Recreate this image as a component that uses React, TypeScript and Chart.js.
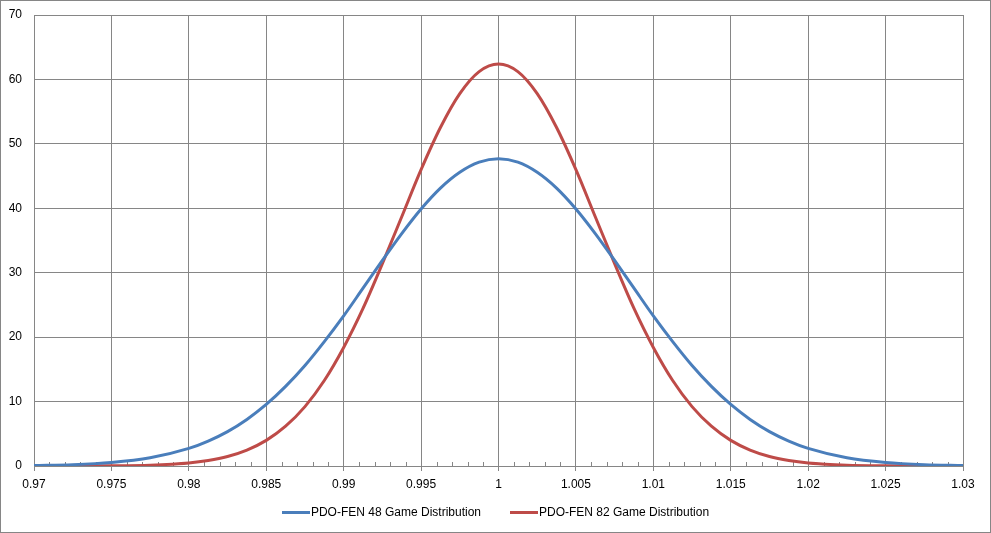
import React, { useEffect, useRef } from "react";
import { Chart, registerables, Plugin } from "chart.js";

Chart.register(...registerables);

const xValues = [
  0.97, 0.9725, 0.975, 0.9775, 0.98, 0.98125, 0.9825, 0.98375, 0.985, 0.98625,
  0.9875, 0.98875, 0.99, 0.99125, 0.9925, 0.99375, 0.995, 0.99625, 0.9975,
  0.99875, 1.0, 1.00125, 1.0025, 1.00375, 1.005, 1.00625, 1.0075, 1.00875,
  1.01, 1.01125, 1.0125, 1.01375, 1.015, 1.01625, 1.0175, 1.01875, 1.02,
  1.0225, 1.025, 1.0275, 1.03,
];

const games48 = [
  0.08, 0.21, 0.55, 1.28, 2.73, 3.87, 5.34, 7.23, 9.55, 12.35, 15.6, 19.31,
  23.3, 27.6, 31.9, 36.08, 39.9, 43.14, 45.6, 47.17, 47.7, 47.17, 45.6, 43.14,
  39.9, 36.08, 31.9, 27.6, 23.3, 19.31, 15.6, 12.35, 9.55, 7.23, 5.34, 3.87,
  2.73, 1.28, 0.55, 0.21, 0.08,
];

const games82 = [
  0.001, 0.006, 0.03, 0.13, 0.47, 0.85, 1.47, 2.47, 3.98, 6.18, 9.22, 13.27,
  18.4, 24.46, 31.4, 38.69, 46.0, 52.54, 57.8, 61.22, 62.4, 61.22, 57.8, 52.54,
  46.0, 38.69, 31.4, 24.46, 18.4, 13.27, 9.22, 6.18, 3.98, 2.47, 1.47, 0.85,
  0.47, 0.13, 0.03, 0.006, 0.001,
];

const seriesLabels = [
  "PDO-FEN 48 Game Distribution",
  "PDO-FEN 82 Game Distribution",
];
const seriesColors = ["#4A7EBB", "#BE4B48"];

const GRID = "#868686";
const FAMILY = "'Liberation Sans', Arial, sans-serif";
const FONT = { family: FAMILY, size: 12 };

// small inner ticks between the major x gridlines, like Excel's minor ticks
const minorTicks: Plugin<"line"> = {
  id: "minorTicks",
  beforeDatasetsDraw(chart) {
    const xs = chart.scales.x;
    const bottom = chart.chartArea.bottom;
    const ctx = chart.ctx;
    ctx.save();
    ctx.strokeStyle = GRID;
    ctx.lineWidth = 1;
    ctx.beginPath();
    for (let i = 1; i < 60; i++) {
      if (i % 5 === 0) continue;
      const px = Math.round(xs.getPixelForValue(0.97 + i * 0.001)) + 0.5;
      ctx.moveTo(px, bottom - 4);
      ctx.lineTo(px, bottom);
    }
    ctx.stroke();
    ctx.restore();
  },
};

const App = () => {
  const canvasRef = useRef<HTMLCanvasElement>(null);
  const chartRef = useRef<Chart | null>(null);

  useEffect(() => {
    document.body.style.margin = "0";
    if (!canvasRef.current) return;

    chartRef.current?.destroy();

    chartRef.current = new Chart(canvasRef.current, {
      type: "line",
      data: {
        datasets: [
          {
            label: seriesLabels[0],
            data: xValues.map((x, i) => ({ x, y: games48[i] })),
            borderColor: seriesColors[0],
            borderWidth: 3,
            pointRadius: 0,
            cubicInterpolationMode: "monotone",
          },
          {
            label: seriesLabels[1],
            data: xValues.map((x, i) => ({ x, y: games82[i] })),
            borderColor: seriesColors[1],
            borderWidth: 3,
            pointRadius: 0,
            cubicInterpolationMode: "monotone",
          },
        ],
      },
      options: {
        animation: false,
        responsive: true,
        maintainAspectRatio: false,
        layout: {
          padding: { left: 0, top: 14, right: 27, bottom: 36 },
        },
        plugins: {
          tooltip: { enabled: false },
          legend: { display: false },
        },
        scales: {
          x: {
            type: "linear",
            min: 0.97,
            max: 1.03,
            afterFit: (scale) => {
              scale.height = 30;
            },
            grid: {
              color: GRID,
              tickLength: 5,
            },
            border: { color: GRID },
            ticks: {
              stepSize: 0.005,
              padding: 6,
              color: "#000",
              font: FONT,
              maxRotation: 0,
              autoSkip: false,
              callback: (v) => String(Number(Number(v).toFixed(3))),
            },
          },
          y: {
            min: 0,
            max: 70,
            afterFit: (scale) => {
              scale.width = 33;
            },
            grid: {
              color: GRID,
              tickLength: 12,
              tickColor: "rgba(0,0,0,0)",
            },
            border: { color: GRID },
            ticks: {
              stepSize: 10,
              padding: 0,
              color: "#000",
              font: FONT,
            },
          },
        },
      },
      plugins: [minorTicks],
    });

    return () => {
      chartRef.current?.destroy();
    };
  }, []);

  return (
    <div
      style={{
        position: "absolute",
        left: 0,
        top: 0,
        width: 991,
        height: 533,
        boxSizing: "border-box",
        border: "1px solid #868686",
        background: "#fff",
      }}
    >
      <canvas ref={canvasRef} />
      <div
        style={{
          position: "absolute",
          left: 0,
          right: 0,
          top: 504,
          height: 14,
          display: "flex",
          justifyContent: "center",
          alignItems: "center",
          gap: 29,
          fontFamily: FAMILY,
          fontSize: 12,
          lineHeight: "14px",
          color: "#000",
        }}
      >
        {seriesLabels.map((label, i) => (
          <div key={label} style={{ display: "flex", alignItems: "center" }}>
            <span
              style={{
                display: "inline-block",
                width: 28,
                height: 3,
                marginRight: 1,
                background: seriesColors[i],
              }}
            />
            <span>{label}</span>
          </div>
        ))}
      </div>
    </div>
  );
};

export default App;
